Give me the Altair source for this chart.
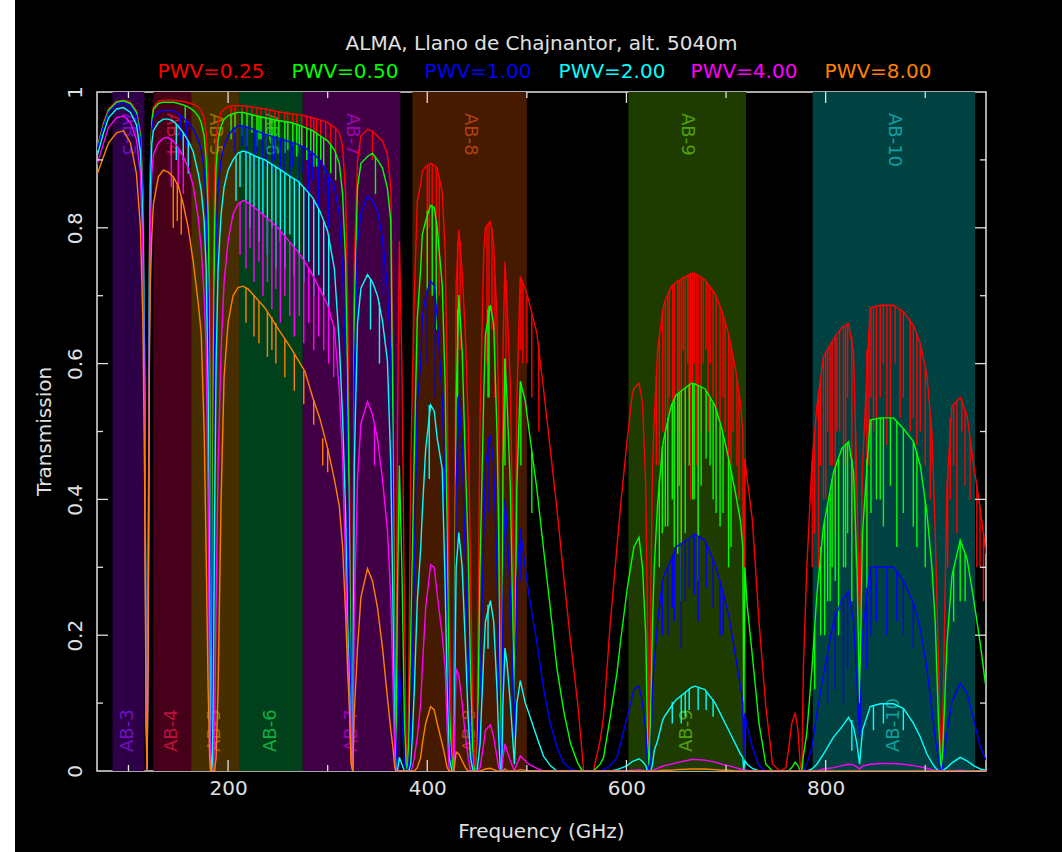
import altair as alt
import pandas as pd

# ---------------- data ----------------
SERIES = ["PWV=0.25", "PWV=0.50", "PWV=1.00", "PWV=2.00", "PWV=4.00", "PWV=8.00"]

FREQ = (
    [68.4, 75, 80, 88, 95, 102, 108, 112, 114.5, 116.3, 117.6, 118.7, 119.9, 121, 122, 123.5]
    + [125, 130, 135, 140, 145, 150, 155, 160, 165, 170, 173, 176, 178, 180, 181.5, 182.4, 183.3, 184.2, 185.2, 186.5, 188, 190, 193, 196]
    + [200, 205, 210, 215, 220, 228, 237, 250, 263, 270, 277, 285, 292, 300, 306.7, 311.7, 315, 318, 320, 322, 323.5, 325.2]
    + [326.7, 330, 333.4, 340, 345, 350, 355, 360, 363.4, 365.5, 367.3, 368.5, 370, 372, 374.5, 377, 379, 380.2]
    + [381.5, 383.4, 385, 387, 390, 393.4, 395, 398.4, 403.4, 407, 410, 415, 418, 420, 422, 424.8, 426.7, 429, 431.7, 435, 438.4, 441, 443.4, 446, 448]
    + [450, 453, 456.7, 458.4, 463.4, 466.7, 470, 471.7, 473.5, 474.7, 476, 478, 480, 483.4, 487.5, 490, 493.4, 498.4, 502, 510, 516.7, 523.5, 530.2, 536.8, 543.9, 551, 555, 557]
    + [566.8, 573.6, 577, 583.8, 590.5, 594, 600.8, 605.8, 607.5, 612.6, 616.1, 619.4, 621.1, 622.8, 624.5, 626.2, 627.9, 631.3, 636.4, 638.1, 644.9, 649.9, 665.3, 668.6, 678.9, 689, 695.8, 702.6, 709.4, 714.4, 716.8, 717.8, 718.8, 721.2, 726.4, 733.1, 739.9, 746.7]
    + [754, 760, 762.6, 766, 769.4, 772.2, 774.4, 776.1, 777.7, 781.1, 786.2, 791.2, 797.8, 807.9, 816.3, 823, 828, 831.4, 834.1, 837, 844.7, 854.8, 868.1, 878.2, 888.2, 895, 901.7, 906.7, 910, 913.4, 915.5, 916.8, 921.8, 926.8, 935.1, 941.9, 948.5, 955.2, 961]
)

T_025 = (
    [.918, .955, .975, .986, .988, .985, .972, .94, .85, .6, .15, 0, .3, .75, .9, .96]
    + [.978, .986, .988, .988, .988, .987, .986, .984, .982, .978, .973, .962, .94, .88, .7, .35, 0, .35, .72, .88, .93, .955, .97, .975]
    + [.978, .98, .98, .98, .979, .977, .975, .971, .968, .967, .965, .962, .959, .955, .948, .94, .92, .85, .7, .42, .12, 0]
    + [.75, .9, .935, .945, .942, .935, .928, .908, .858, .6, .2, 0, .5, .78, .6, .25, .03, 0]
    + [.15, .45, .569, .7, .839, .865, .883, .89, .895, .892, .888, .853, .765, .569, .25, 0, .1, .716, .797, .736, .637, .52, .3, .06, 0]
    + [.05, .52, .765, .8, .809, .775, .667, .52, .15, 0, .617, .75, .691, .569, .2, .55, .728, .71, .692, .645, .563, .474, .386, .29, .19, .1, .035, 0]
    + [0, .045, .08, .219, .33, .389, .489, .554, .563, .571, .543, .419, .219, 0, .269, .45, .518, .619, .678, .69, .713, .72, .733, .733, .723, .703, .678, .643, .593, .543, .5, .15, .46, .43, .37, .22, .095, .01]
    + [0, .005, .03, .07, .086, .06, .01, 0, .155, .3, .452, .537, .61, .636, .653, .659, .616, .42, .2, .45, .682, .686, .686, .676, .656, .63, .583, .498, .353, .155, .03, 0, .42, .537, .55, .524, .452, .386, .32]
)

T_050 = (
    [.916, .953, .973, .985, .987, .983, .97, .937, .845, .59, .14, 0, .3, .74, .89, .955]
    + [.974, .983, .985, .985, .985, .983, .981, .978, .973, .965, .955, .935, .9, .82, .6, .2, 0, .2, .6, .8, .89, .93, .95, .96]
    + [.965, .968, .97, .97, .968, .965, .962, .958, .955, .952, .948, .943, .936, .928, .915, .895, .85, .75, .58, .33, .08, 0]
    + [.68, .86, .895, .905, .91, .9, .888, .858, .81, .5, .15, 0, .25, .45, .3, .08, 0, 0]
    + [.05, .2, .32, .47, .667, .74, .79, .81, .833, .83, .8, .716, .569, .35, .1, 0, .03, .55, .701, .62, .45, .33, .15, .01, 0]
    + [0, .3, .55, .642, .686, .657, .5, .35, .05, 0, .45, .607, .55, .42, .1, .42, .574, .545, .504, .416, .328, .24, .151, .09, .04, .012, .002, 0]
    + [0, .01, .02, .08, .145, .19, .269, .315, .33, .344, .3, .2, .05, 0, .1, .22, .3, .394, .48, .493, .538, .554, .571, .57, .563, .538, .504, .46, .41, .369, .33, .08, .3, .244, .17, .07, .01, 0]
    + [0, 0, 0, .005, .013, .008, 0, 0, .023, .056, .15, .26, .36, .44, .475, .485, .44, .3, .1, .35, .517, .52, .52, .504, .485, .45, .38, .3, .22, .07, .01, 0, .188, .287, .34, .313, .254, .188, .122]
)

T_100 = (
    [.914, .95, .97, .982, .984, .979, .965, .93, .835, .575, .13, 0, .3, .73, .88, .945]
    + [.962, .97, .973, .973, .972, .968, .962, .955, .945, .93, .915, .885, .83, .7, .42, .08, 0, .06, .38, .62, .78, .86, .9, .92]
    + [.935, .945, .95, .95, .948, .943, .938, .932, .926, .923, .918, .91, .9, .879, .86, .82, .74, .6, .42, .22, .05, 0]
    + [.58, .78, .82, .847, .84, .825, .785, .711, .613, .35, .08, 0, .06, .15, .08, .01, 0, 0]
    + [.01, .06, .15, .3, .544, .6, .667, .7, .721, .715, .667, .55, .4, .2, .05, 0, 0, .42, .554, .48, .3, .18, .05, 0, 0]
    + [0, .12, .35, .45, .495, .45, .3, .15, .02, 0, .25, .4, .36, .26, .05, .28, .357, .299, .26, .19, .122, .07, .035, .012, .003, 0, 0, 0]
    + [0, 0, .002, .008, .02, .04, .08, .11, .12, .125, .1, .06, .01, 0, .02, .12, .16, .22, .28, .29, .31, .33, .345, .349, .339, .304, .27, .23, .17, .125, .1, .02, .085, .065, .035, .008, 0, 0]
    + [0, 0, 0, 0, 0, 0, 0, 0, 0, .01, .035, .085, .142, .22, .252, .264, .22, .13, .05, .2, .3, .301, .3, .28, .247, .21, .15, .09, .05, .015, 0, 0, .056, .102, .129, .115, .076, .036, .016]
)

T_200 = (
    [.905, .94, .962, .975, .977, .97, .952, .912, .81, .55, .12, 0, .28, .7, .86, .925]
    + [.943, .955, .96, .96, .957, .95, .94, .928, .912, .88, .855, .81, .74, .56, .25, .03, 0, .01, .12, .38, .6, .74, .82, .86]
    + [.885, .9, .91, .913, .911, .905, .9, .888, .875, .869, .858, .844, .825, .795, .74, .63, .52, .38, .22, .12, .03, 0]
    + [.45, .66, .711, .731, .72, .7, .663, .604, .45, .25, .05, 0, 0, .02, .01, 0, 0, 0]
    + [0, .01, .05, .12, .25, .328, .38, .474, .539, .53, .49, .445, .269, .12, .02, 0, 0, .3, .351, .3, .18, .08, .02, 0, 0]
    + [0, .04, .17, .22, .251, .22, .12, .05, 0, 0, .1, .181, .16, .1, .01, .1, .133, .1, .085, .05, .022, .008, 0, 0, 0, 0, 0, 0]
    + [0, 0, 0, 0, .002, .004, .008, .014, .015, .018, .014, .008, 0, 0, 0, .01, .03, .045, .075, .08, .095, .105, .123, .125, .12, .1, .08, .06, .04, .025, .02, 0, .015, .01, .004, 0, 0, 0]
    + [0, 0, 0, 0, 0, 0, 0, 0, 0, 0, .003, .01, .025, .05, .065, .079, .065, .04, .01, .06, .095, .099, .099, .092, .07, .05, .025, .012, .005, 0, 0, 0, .005, .012, .02, .015, .008, .003, .001]
)

T_400 = (
    [.893, .925, .948, .962, .965, .955, .93, .88, .76, .5, .1, 0, .25, .65, .8, .88]
    + [.908, .925, .932, .933, .928, .918, .905, .888, .862, .815, .77, .7, .62, .4, .1, 0, 0, 0, 0, .06, .25, .45, .62, .72]
    + [.78, .82, .835, .84, .837, .828, .817, .8, .777, .765, .75, .73, .71, .686, .652, .56, .46, .3, .18, .1, .02, 0]
    + [.23, .43, .512, .544, .525, .49, .43, .355, .256, .133, .03, 0, 0, 0, 0, 0, 0, 0]
    + [0, 0, .005, .02, .05, .1, .151, .24, .304, .3, .26, .2, .151, .06, 0, 0, 0, .151, .14, .1, .05, .02, 0, 0, 0]
    + [0, .005, .04, .06, .068, .05, .02, .005, 0, 0, .02, .04, .03, .015, 0, .01, .022, .015, .01, .004, 0, 0, 0, 0, 0, 0, 0, 0]
    + [0, 0, 0, 0, 0, 0, 0, .001, .001, .002, .001, 0, 0, 0, 0, 0, .002, .004, .007, .008, .01, .012, .017, .017, .016, .013, .01, .008, .005, .003, .002, 0, .001, .001, 0, 0, 0, 0]
    + [0, 0, 0, 0, 0, 0, 0, 0, 0, 0, 0, 0, .003, .005, .008, .01, .009, .006, .003, .007, .01, .011, .011, .01, .008, .006, .004, .002, .001, 0, 0, 0, 0, 0, .001, 0, 0, 0, 0]
)

T_800 = (
    [.878, .905, .925, .94, .943, .925, .88, .8, .66, .42, .07, 0, .2, .6, .72, .79]
    + [.835, .875, .885, .882, .875, .862, .835, .8, .75, .69, .645, .5, .32, .12, .02, 0, 0, 0, 0, 0, .02, .12, .4, .58]
    + [.66, .7, .712, .714, .71, .697, .682, .652, .623, .606, .589, .55, .52, .475, .43, .39, .33, .232, .15, .085, .01, 0]
    + [.085, .182, .256, .298, .28, .241, .182, .108, .06, .035, .005, 0, 0, 0, 0, 0, 0, 0]
    + [0, 0, 0, 0, .005, .02, .04, .07, .095, .09, .07, .04, .02, .005, 0, 0, 0, .028, .025, .015, .005, 0, 0, 0, 0]
    + [0, 0, .002, .003, .004, .002, 0, 0, 0, 0, 0, .003, 0, 0, 0, 0, .002, .001, 0, 0, 0, 0, 0, 0, 0, 0, 0, 0]
    + [0, 0, 0, 0, 0, 0, 0, 0, 0, 0, 0, 0, 0, 0, 0, 0, 0, 0, .001, .001, .001, .002, .003, .003, .003, .002, .001, .001, 0, 0, 0, 0, 0, 0, 0, 0, 0, 0]
    + [0, 0, 0, 0, 0, 0, 0, 0, 0, 0, 0, 0, 0, 0, 0, 0, 0, 0, 0, 0, 0, 0, 0, 0, 0, 0, 0, 0, 0, 0, 0, 0, 0, 0, 0, 0, 0, 0, 0]
)

# narrow absorption lines: frequency, transmission just beside the line, transmission at the line
DIP_025_F = (
    [257, 286, 345, 405, 412, 433, 460, 465, 496, 633, 636.5, 641.5, 646.5, 651.5, 655, 661.5, 666.5, 672, 677, 684, 694, 699, 702.5, 707,
     792.9, 797.8, 804.5, 809.6, 811.3, 817.9, 826.3, 841.4, 848, 854.8, 861.5, 869.8, 874.8, 884.9, 891.6, 925.1, 931.8, 936.8, 951.8, 958.5]
    + [203, 207, 214, 219, 224, 229, 233, 238, 242, 247, 251, 260, 265, 269, 274, 279, 283, 289, 293, 298, 303, 308]
    + [400, 402, 409, 430.5, 462, 468, 479, 494, 500, 505, 512]
    + [630, 639, 643, 648, 653, 657, 659, 663, 664.5, 668, 670, 675, 680, 682, 687, 690, 697, 705, 711, 713]
    + [786.5, 789, 795, 800, 802, 806.5, 814, 820, 822, 830, 843.5, 845.5, 851, 858, 865, 878, 888, 895, 900, 905, 922.5, 928.5, 940, 945, 955]
)
DIP_025_TOP = (
    [.97, .962, .942, .894, .875, .78, .805, .8, .72, .64, .678, .7, .715, .722, .725, .73, .733, .73, .725, .713, .685, .66, .643, .61,
     .55, .61, .625, .638, .64, .654, .64, .62, .684, .686, .686, .686, .68, .665, .645, .52, .545, .548, .42, .35]
    + [.979, .98, .98, .979, .978, .977, .976, .975, .974, .972, .971, .969, .968, .967, .966, .965, .963, .961, .959, .956, .953, .946]
    + [.892, .894, .889, .78, .808, .73, .72, .728, .7, .672, .63]
    + [.58, .693, .707, .717, .723, .727, .728, .731, .732, .733, .732, .727, .721, .717, .707, .7, .672, .626, .577, .557]
    + [.457, .5, .58, .615, .621, .632, .648, .656, .658, .5, .648, .683, .685, .686, .686, .676, .657, .63, .595, .525, .44, .54, .53, .49, .39]
)
DIP_025_BOT = (
    [.94, .93, .9, .78, .7, .62, .6, .65, .6, .45, .5, .49, .5, .42, .3, .6, .5, .33, .6, .6, .45, .5, .37, .5,
     .3, .4, .45, .35, .5, .48, .35, .3, .5, .55, .48, .6, .52, .5, .48, .4, .35, .5, .3, .25]
    + [.95, .94, .955, .93, .95, .925, .95, .92, .945, .92, .94, .935, .925, .94, .92, .94, .925, .94, .92, .93, .91, .91]
    + [.75, .8, .75, .6, .65, .55, .55, .62, .6, .55, .5]
    + [.45, .5, .55, .4, .5, .62, .45, .55, .4, .6, .45, .5, .62, .5, .55, .5, .55, .45, .45, .4]
    + [.3, .35, .45, .4, .5, .45, .5, .45, .55, .3, .45, .55, .5, .6, .52, .55, .52, .5, .45, .4, .3, .45, .42, .4, .3]
)

DIP_050_F = (
    [231, 244, 257, 271.5, 286, 296, 348, 405, 461, 633, 641.5, 651.5, 655, 666.5, 672, 684, 694, 702.5,
     799, 804.5, 809.6, 813, 817.9, 826.3, 841.4, 854.8, 871.5, 891.6, 935.1]
    + [203, 207, 214, 219, 224, 229, 233, 238, 242, 247, 251, 260, 265, 269, 274, 279, 283, 289, 293, 303, 308]
    + [157, 400, 409, 430.5, 462, 478, 494, 505]
    + [636, 639, 646, 648, 653, 659, 663, 668, 675, 680, 687, 690, 697, 705]
    + [789, 795, 802, 806.5, 820, 822, 845.5, 851, 858, 865, 878, 888, 900, 928.5, 940]
)
DIP_050_TOP = (
    [.964, .96, .956, .951, .942, .932, .905, .833, .68, .43, .52, .556, .56, .571, .567, .55, .51, .46,
     .37, .41, .445, .46, .477, .46, .46, .52, .515, .47, .34]
    + [.967, .969, .97, .968, .967, .965, .964, .962, .961, .959, .958, .956, .954, .952, .95, .947, .944, .94, .935, .922, .91]
    + [.98, .825, .81, .68, .685, .607, .572, .47]
    + [.478, .499, .541, .548, .557, .564, .569, .57, .566, .561, .543, .533, .496, .443]
    + [.21, .33, .395, .43, .481, .484, .517, .519, .52, .52, .504, .485, .4, .3, .32]
)
DIP_050_BOT = (
    [.93, .92, .91, .91, .89, .88, .85, .7, .55, .3, .36, .32, .25, .4, .28, .45, .36, .3,
     .2, .25, .28, .2, .3, .25, .25, .4, .33, .33, .25]
    + [.93, .94, .935, .92, .94, .92, .93, .915, .93, .91, .93, .915, .92, .905, .92, .9, .91, .89, .9, .88, .87]
    + [.955, .7, .65, .55, .55, .45, .45, .38]
    + [.35, .36, .4, .33, .42, .35, .45, .4, .42, .46, .4, .38, .38, .33]
    + [.12, .2, .25, .3, .3, .35, .38, .4, .36, .42, .38, .36, .3, .22, .25]
)

DIP_100_F = (
    [226, 235, 244, 252.5, 262, 271.5, 281, 291, 301, 356, 408, 641.5, 655, 672, 694, 809.6, 817.9, 841.4, 861.5, 871.5]
    + [207, 214, 219, 229, 238, 247, 256, 265, 274, 285, 296]
    + [152, 158, 400, 430.5, 462, 494]
    + [636, 646, 648, 659, 663, 668, 680, 687, 697]
    + [802, 822, 845.5, 851, 878, 888]
)
DIP_100_TOP = (
    [.944, .939, .935, .931, .927, .922, .914, .898, .877, .78, .7, .3, .335, .345, .28, .235, .253, .27, .3, .295]
    + [.947, .95, .948, .943, .938, .933, .93, .925, .92, .91, .892]
    + [.966, .958, .71, .54, .49, .355]
    + [.278, .314, .322, .339, .343, .348, .336, .311, .263]
    + [.17, .262, .3, .3, .28, .247]
)
DIP_100_BOT = (
    [.89, .87, .88, .86, .87, .85, .85, .83, .8, .7, .55, .2, .18, .22, .2, .12, .1, .15, .2, .22]
    + [.91, .92, .9, .91, .89, .9, .88, .89, .88, .87, .85]
    + [.93, .92, .6, .42, .38, .28]
    + [.2, .24, .22, .25, .27, .26, .27, .24, .2]
    + [.1, .15, .2, .22, .2, .18]
)

DIP_200_F = (
    [148, 208, 212, 218, 222, 226, 231, 235, 239.5, 244, 248, 252.5, 257, 262, 266.5, 271.5, 276, 281, 286, 291, 296, 301,
     343, 352, 655, 672, 826.3, 848]
    + [155, 160, 402, 461, 646, 659, 663, 680, 687, 858, 878]
)
DIP_200_TOP = (
    [.953, .905, .91, .912, .91, .907, .904, .9, .898, .894, .89, .886, .88, .876, .872, .868, .86, .851, .842, .828, .81, .79,
     .725, .69, .11, .124, .075, .097]
    + [.94, .928, .539, .245, .102, .116, .121, .118, .106, .099, .092]
)
DIP_200_BOT = (
    [.9, .84, .86, .84, .8, .83, .78, .82, .76, .8, .74, .78, .74, .79, .73, .76, .72, .75, .7, .73, .7, .68,
     .65, .6, .07, .09, .03, .06]
    + [.9, .88, .43, .18, .07, .08, .09, .09, .08, .07, .06]
)

DIP_400_F = [143, 212, 218, 222, 226, 231, 235, 239.5, 244, 248, 252.5, 257, 262, 266.5, 271.5, 276, 281, 286, 291, 347,
             150, 155, 296, 301, 306]
DIP_400_TOP = [.93, .838, .838, .835, .831, .825, .82, .814, .808, .803, .797, .788, .779, .771, .762, .752, .741, .727, .713, .51,
               .918, .905, .698, .68, .655]
DIP_400_BOT = [.86, .76, .74, .77, .72, .75, .7, .72, .68, .71, .66, .7, .67, .64, .67, .63, .66, .62, .64, .45,
               .86, .85, .62, .6, .58]

DIP_800_F = [145, 149, 218, 226, 231, 239.5, 244, 248, 257, 266.5, 276, 286, 153, 295, 300]
DIP_800_TOP = [.875, .866, .712, .7, .692, .677, .669, .66, .636, .615, .59, .546, .845, .49, .475]
DIP_800_BOT = [.8, .81, .66, .64, .63, .61, .62, .6, .58, .56, .54, .51, .79, .45, .44]

# ALMA bands
BAND_NAMES = ["AB-3", "AB-4", "AB-5", "AB-6", "AB-7", "AB-8", "AB-9", "AB-10"]
BAND_LO = [84, 125, 163, 211, 275, 385, 602, 787]
BAND_HI = [116, 163, 211, 275, 373, 500, 720, 950]

X_MAJOR = [200, 400, 600, 800]
X_MINOR = [100, 300, 500, 700, 900]
Y_MAJOR = [0.2, 0.4, 0.6, 0.8]
Y_MINOR = [0.1, 0.3, 0.5, 0.7, 0.9]
Y_LABELS = [0, 0.2, 0.4, 0.6, 0.8, 1]

# ---------------- style ----------------
COLORS = ["#ff0000", "#00ff00", "#0000ff", "#00ffff", "#ff00ff", "#ff8000"]
BAND_FILL = ["#2e0048", "#46001a", "#462e00", "#00401a", "#410046", "#461a00", "#1e3c00", "#004242"]
BAND_INK = ["#7010c0", "#c0103c", "#a07000", "#10b040", "#a000b0", "#b04010", "#50a010", "#10a0a0"]
FG = "#e0e0e0"
FONT = "DejaVu Sans"
W, H = 889, 679
PAD_L, PAD_T, PAD_R, PAD_B = 97, 92, 76, 81
LEFT_WHITE = 15
LEGEND_X = [114, 248, 381, 515, 647, 781]
LW = 1.4

# ---------------- chart ----------------
series_vals = [T_025, T_050, T_100, T_200, T_400, T_800]
dips = [(DIP_025_F, DIP_025_TOP, DIP_025_BOT), (DIP_050_F, DIP_050_TOP, DIP_050_BOT),
        (DIP_100_F, DIP_100_TOP, DIP_100_BOT), (DIP_200_F, DIP_200_TOP, DIP_200_BOT),
        (DIP_400_F, DIP_400_TOP, DIP_400_BOT), (DIP_800_F, DIP_800_TOP, DIP_800_BOT)]
for v in series_vals:
    assert len(v) == len(FREQ), (len(v), len(FREQ))
for f, t, b in dips:
    assert len(f) == len(t) == len(b), (len(f), len(t), len(b))

xs = alt.Scale(domain=[68.4, 961.0], nice=False, zero=False)
ys = alt.Scale(domain=[0, 1], nice=False, zero=False)
XAX = alt.Axis(values=X_MAJOR, title=None, ticks=False, domain=False, grid=False,
               labelColor=FG, labelFont=FONT, labelFontSize=20, labelPadding=7,
               labelFlush=False, labelOverlap=False)
YAX = alt.Axis(values=Y_LABELS, format="~g", title=None, ticks=False, domain=False, grid=False,
               labelColor=FG, labelFont=FONT, labelFontSize=20, labelPadding=12, labelAngle=-90,
               labelAlign="center", labelBaseline="bottom", labelFlush=False, labelOverlap=False)

one = pd.DataFrame({"k": [0]})
band_df = pd.DataFrame({"name": BAND_NAMES, "lo": BAND_LO, "hi": BAND_HI,
                        "fill": BAND_FILL, "ink": BAND_INK})
band_df["mid"] = (band_df["lo"] + band_df["hi"]) / 2

layers = []
# thin white strip on the left edge of the page, as in the reference
layers.append(
    alt.Chart(one).mark_rect(color="#ffffff").encode(
        x=alt.value(-PAD_L), x2=alt.value(LEFT_WHITE - PAD_L),
        y=alt.value(-PAD_T), y2=alt.value(H + PAD_B))
)
layers.append(
    alt.Chart(band_df).mark_rect().encode(
        x=alt.X("lo:Q", scale=xs, axis=XAX), x2="hi:Q",
        y=alt.value(0), y2=alt.value(H),
        color=alt.Color("fill:N", scale=None))
)
layers.append(
    alt.Chart(band_df).mark_text(angle=90, align="left", baseline="middle", font=FONT, fontSize=18).encode(
        x=alt.X("mid:Q", scale=xs, axis=XAX), y=alt.value(21), text="name:N",
        color=alt.Color("ink:N", scale=None))
)
layers.append(
    alt.Chart(band_df).mark_text(angle=270, align="left", baseline="middle", font=FONT, fontSize=18).encode(
        x=alt.X("mid:Q", scale=xs, axis=XAX), y=alt.value(H - 19), text="name:N",
        color=alt.Color("ink:N", scale=None))
)

for i, name in enumerate(SERIES):
    d = pd.DataFrame({"freq": FREQ, "T": series_vals[i]})
    layers.append(
        alt.Chart(d).mark_line(color=COLORS[i], strokeWidth=LW, clip=True).encode(
            x=alt.X("freq:Q", scale=xs, axis=XAX), y=alt.Y("T:Q", scale=ys, axis=YAX))
    )
    f, t, b = dips[i]
    dd = pd.DataFrame({"f": f, "top": t, "bot": b})
    layers.append(
        alt.Chart(dd).mark_rule(color=COLORS[i], strokeWidth=LW, clip=True).encode(
            x=alt.X("f:Q", scale=xs, axis=XAX), y=alt.Y("top:Q", scale=ys, axis=YAX), y2="bot:Q")
    )

# inward ticks on all four sides
def xticks(vals, length):
    d = pd.DataFrame({"v": vals})
    bottom = alt.Chart(d).mark_rule(color=FG, strokeWidth=1.3).encode(
        x=alt.X("v:Q", scale=xs, axis=XAX), y=alt.value(H), y2=alt.value(H - length))
    top = alt.Chart(d).mark_rule(color=FG, strokeWidth=1.3).encode(
        x=alt.X("v:Q", scale=xs, axis=XAX), y=alt.value(0), y2=alt.value(length))
    return [bottom, top]

def yticks(vals, length):
    d = pd.DataFrame({"v": vals})
    left = alt.Chart(d).mark_rule(color=FG, strokeWidth=1.3).encode(
        y=alt.Y("v:Q", scale=ys, axis=YAX), x=alt.value(0), x2=alt.value(length))
    right = alt.Chart(d).mark_rule(color=FG, strokeWidth=1.3).encode(
        y=alt.Y("v:Q", scale=ys, axis=YAX), x=alt.value(W), x2=alt.value(W - length))
    return [left, right]

layers += xticks(X_MAJOR, 11) + xticks(X_MINOR, 6) + yticks(Y_MAJOR, 11) + yticks(Y_MINOR, 6)

layers.append(
    alt.Chart(one).mark_text(font=FONT, fontSize=20, color=FG, baseline="middle").encode(
        x=alt.value(W / 2), y=alt.value(-48), text=alt.value("ALMA, Llano de Chajnantor, alt. 5040m"))
)
for i, name in enumerate(SERIES):
    layers.append(
        alt.Chart(one).mark_text(font=FONT, fontSize=20, color=COLORS[i], baseline="middle").encode(
            x=alt.value(LEGEND_X[i]), y=alt.value(-20), text=alt.value(name))
    )
layers.append(
    alt.Chart(one).mark_text(font=FONT, fontSize=20, color=FG, baseline="middle").encode(
        x=alt.value(W / 2), y=alt.value(H + 61), text=alt.value("Frequency (GHz)"))
)
layers.append(
    alt.Chart(one).mark_text(font=FONT, fontSize=20, color=FG, baseline="middle", angle=270).encode(
        x=alt.value(-52), y=alt.value(H / 2), text=alt.value("Transmission"))
)

chart = alt.layer(*layers).properties(
    width=W, height=H,
    background="#000000",
    padding={"left": PAD_L, "top": PAD_T, "right": PAD_R, "bottom": PAD_B},
    autosize=alt.AutoSizeParams(type="none"),
).configure_view(stroke=FG, strokeWidth=1.5)

chart.save("out.html", embed_options={"renderer": "svg", "actions": False})
